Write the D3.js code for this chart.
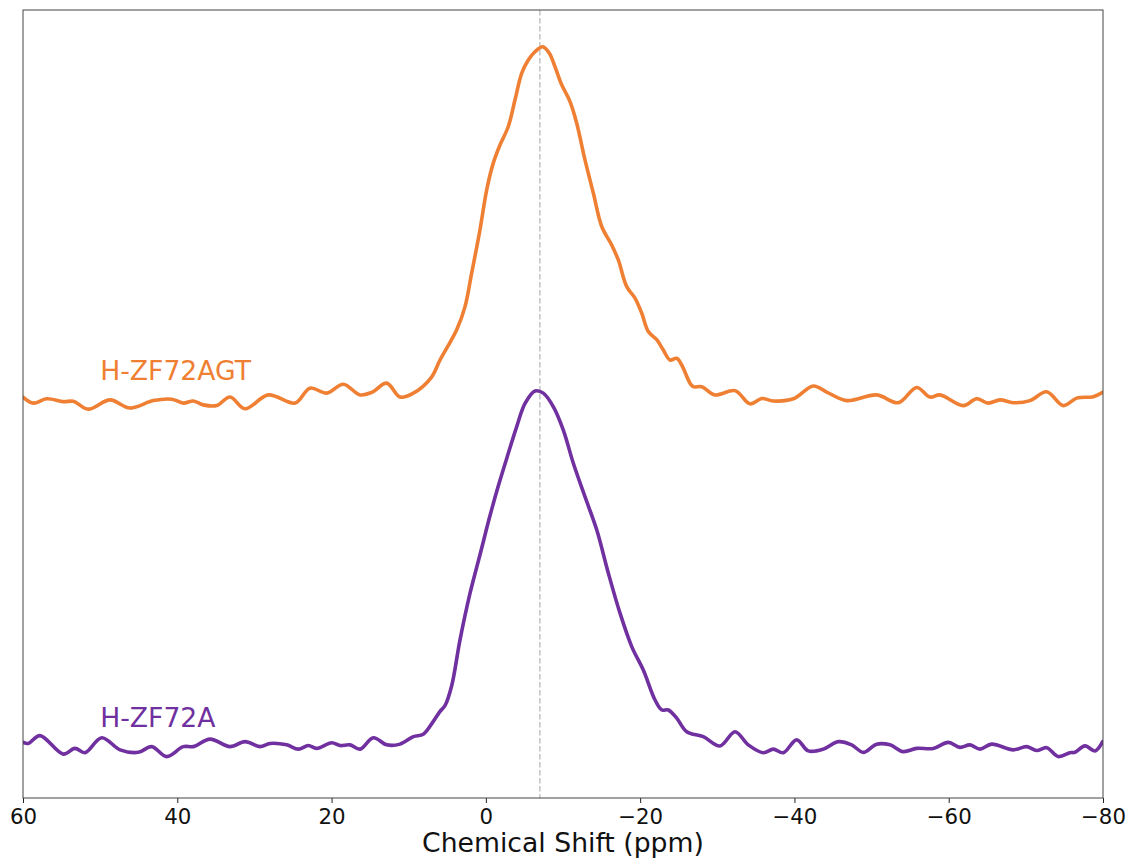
<!DOCTYPE html>
<html>
<head>
<meta charset="utf-8">
<script src="https://cdn.jsdelivr.net/npm/d3@7"></script>
<style>
  html, body { margin: 0; padding: 0; background: #fff; }
  svg { display: block; }
  text { font-family: "DejaVu Sans", sans-serif; }
</style>
</head>
<body>
<script>
// ---- Data (chemical shift in ppm, normalized intensity) ----
const purplePpm = [59.96,59.31,57.80,54.78,53.26,51.96,49.80,47.42,45.05,43.32,41.37,39.22,37.92,35.76,33.17,31.22,29.28,27.98,25.82,24.31,23.02,21.93,19.98,18.91,17.61,16.31,14.59,12.85,11.13,9.40,8.11,6.81,5.94,5.30,4.43,3.35,2.05,0.76,-0.54,-1.61,-2.91,-4.00,-5.08,-6.37,-7.45,-8.74,-10.04,-11.34,-12.85,-14.37,-15.87,-17.39,-18.91,-20.41,-21.93,-22.80,-23.65,-24.74,-26.04,-28.19,-30.35,-32.30,-34.02,-35.97,-37.26,-38.56,-40.29,-41.80,-43.74,-45.69,-47.42,-48.93,-50.66,-52.39,-54.11,-55.85,-58.00,-59.95,-61.46,-62.76,-64.06,-65.57,-68.37,-70.11,-71.40,-72.70,-74.20,-75.72,-76.37,-77.67,-78.96,-79.96];
const purpleVal = [0.013,0.010,0.032,-0.020,-0.004,-0.016,0.026,-0.008,-0.015,0.001,-0.027,0.001,0.001,0.022,0.001,0.015,0.001,0.010,0.006,-0.006,0.004,-0.004,0.012,0.004,0.006,-0.006,0.026,0.006,0.008,0.029,0.036,0.072,0.100,0.116,0.172,0.301,0.432,0.540,0.650,0.733,0.825,0.900,0.965,1.000,0.994,0.956,0.890,0.797,0.703,0.610,0.489,0.376,0.282,0.216,0.132,0.104,0.104,0.081,0.043,0.029,0.003,0.043,0.006,-0.016,-0.006,-0.016,0.020,-0.011,-0.006,0.015,0.006,-0.015,0.008,0.006,-0.013,-0.004,-0.004,0.013,-0.001,0.006,-0.006,0.008,-0.008,0.001,-0.010,-0.002,-0.027,-0.016,-0.015,0.003,-0.011,0.015];

const orangePpm = [60.00,58.66,56.93,54.78,53.48,51.54,48.72,46.13,43.11,40.72,39.22,37.92,36.63,34.89,33.17,31.22,28.20,24.74,22.80,20.63,18.48,16.31,14.80,12.85,11.13,9.40,7.11,5.94,3.78,2.70,1.84,0.76,-0.11,-0.96,-1.83,-2.91,-3.78,-4.65,-5.50,-6.37,-7.37,-8.23,-8.96,-9.83,-10.91,-11.78,-12.85,-13.93,-15.02,-16.31,-17.17,-18.26,-19.33,-20.20,-21.06,-22.15,-23.00,-23.87,-24.74,-25.39,-26.46,-26.89,-27.98,-29.70,-32.30,-34.24,-35.76,-37.26,-39.85,-42.45,-44.18,-46.78,-50.66,-53.46,-55.85,-57.57,-58.87,-61.89,-63.63,-65.13,-66.65,-68.37,-70.54,-72.70,-74.85,-76.59,-78.76,-79.96];
const orangeVal = [0.008,-0.009,0.003,-0.005,-0.004,-0.026,0.000,-0.023,-0.002,0.002,-0.009,-0.003,-0.014,-0.016,0.008,-0.025,0.014,-0.009,0.033,0.019,0.044,0.014,0.021,0.047,0.008,0.019,0.062,0.112,0.197,0.262,0.356,0.478,0.590,0.665,0.716,0.768,0.843,0.918,0.955,0.978,0.992,0.974,0.936,0.885,0.838,0.777,0.674,0.581,0.487,0.435,0.393,0.318,0.286,0.244,0.192,0.169,0.140,0.112,0.117,0.098,0.047,0.037,0.037,0.014,0.026,-0.011,0.004,-0.003,0.003,0.039,0.022,-0.002,0.014,-0.008,0.035,0.008,0.014,-0.016,0.003,-0.009,0.000,-0.008,-0.002,0.023,-0.016,0.005,0.009,0.021];

const seriesNames = ["H-ZF72AGT", "H-ZF72A"];
const seriesOffsets = [0.975, 0];
const seriesColors = ["#ef7f33", "#7030a0"];
const xTicks = [60, 40, 20, 0, -20, -40, -60, -80];
const refLinePpm = -7;
const xLabel = "Chemical Shift (ppm)";

// ---- Layout ----
const W = 1128, H = 859;
const m = { left: 23, right: 25, top: 10, bottom: 61 };
const x0 = m.left, x1 = W - m.right, y0 = m.top, y1 = H - m.bottom;

const svg = d3.select("body").append("svg").attr("width", W).attr("height", H);

const x = d3.scaleLinear().domain([60, -80]).range([x0, x1]);
const y = d3.scaleLinear().domain([-0.1433, 2.0702]).range([y1, y0]);

// reference dashed line
svg.append("line")
  .attr("x1", x(refLinePpm)).attr("x2", x(refLinePpm))
  .attr("y1", y0).attr("y2", y1)
  .attr("stroke", "#c4c4c4").attr("stroke-width", 1.5)
  .attr("stroke-dasharray", "5.5,2.5");

const series = [
  { name: seriesNames[0], ppm: orangePpm, val: orangeVal, off: seriesOffsets[0], color: seriesColors[0] },
  { name: seriesNames[1], ppm: purplePpm, val: purpleVal, off: seriesOffsets[1], color: seriesColors[1] }
];

const line = d3.line()
  .x(d => x(d[0]))
  .y(d => y(d[1]))
  .curve(d3.curveCatmullRom.alpha(0.5));

svg.append("clipPath").attr("id", "clip")
  .append("rect").attr("x", x0).attr("y", y0).attr("width", x1 - x0).attr("height", y1 - y0);

series.forEach(s => {
  const pts = s.ppm.map((p, i) => [p, s.val[i] + s.off]);
  svg.append("path")
    .attr("d", line(pts))
    .attr("fill", "none")
    .attr("stroke", s.color)
    .attr("stroke-width", 3.6)
    .attr("stroke-linejoin", "round")
    .attr("stroke-linecap", "round")
    .attr("clip-path", "url(#clip)");
});

// series labels
series.forEach(s => {
  svg.append("text")
    .attr("x", x(50))
    .attr("y", y(s.off + 0.057))
    .attr("fill", s.color)
    .attr("font-size", 26.67)
    .text(s.name);
});

// x axis
const xAxis = d3.axisBottom(x)
  .tickValues(xTicks)
  .tickSize(5)
  .tickPadding(5.5)
  .tickFormat(d => d < 0 ? "\u2212" + Math.abs(d) : String(d));

const gx = svg.append("g").attr("transform", `translate(0,${y1})`).call(xAxis);
gx.select(".domain").remove();
gx.selectAll(".tick line").attr("stroke", "#222").attr("stroke-width", 1);
gx.selectAll(".tick text").attr("font-size", 21.33).attr("fill", "#111")
  .attr("font-family", "DejaVu Sans, sans-serif");

// frame
svg.append("rect")
  .attr("x", x0).attr("y", y0).attr("width", x1 - x0).attr("height", y1 - y0)
  .attr("fill", "none").attr("stroke", "#444").attr("stroke-width", 1);

// x label
svg.append("text")
  .attr("x", (x0 + x1) / 2)
  .attr("y", 852)
  .attr("text-anchor", "middle")
  .attr("font-size", 26.67)
  .attr("fill", "#111")
  .text(xLabel);
</script>
</body>
</html>
